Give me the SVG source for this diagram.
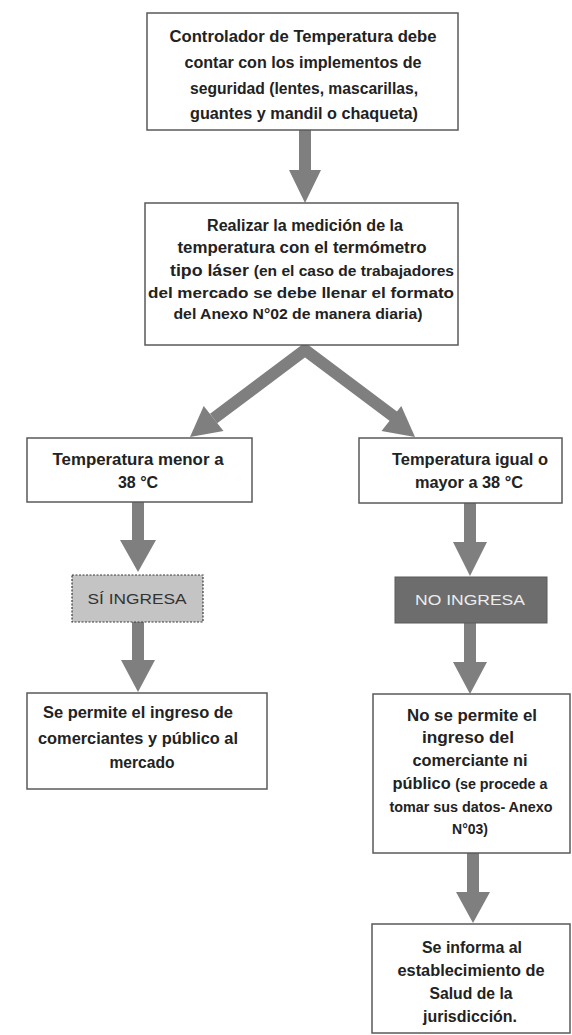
<svg xmlns="http://www.w3.org/2000/svg" width="572" height="1035" viewBox="0 0 572 1035">
<style>
.box{fill:#ffffff;stroke:#5a5a5a;stroke-width:1.5}
.t{font-family:"Liberation Sans",Arial,sans-serif;font-weight:bold;font-size:16px;fill:#222;text-anchor:middle}
.s{font-size:14px}
.arr{fill:#7f7f7f}
.shaft{fill:none;stroke:#7f7f7f;stroke-width:12;stroke-linejoin:miter}
</style>
<rect width="572" height="1035" fill="#ffffff"/>
<g id="connectors">
  <polygon class="arr" points="299,130 311,130 311,170 321,170 305,203 289,170 299,170"/>
  <polyline class="shaft" points="213.6,418.5 305,350 396.4,418.5"/>
  <polygon class="arr" points="190,437 203.7,405.9 223.5,431.1"/>
  <polygon class="arr" points="415,437 401.3,405.9 381.5,431.1"/>
  <polygon class="arr" points="132,502 144,502 144,540 156,540 138,572 120,540 132,540"/>
  <polygon class="arr" points="464,503 476,503 476,542 487,542 470,576 453,542 464,542"/>
  <polygon class="arr" points="132,622 144,622 144,660 155,660 138,692 121,660 132,660"/>
  <polygon class="arr" points="464,623 476,623 476,662 487,662 470,694 453,662 464,662"/>
  <polygon class="arr" points="467,853 479,853 479,892 490,892 473,923 456,892 467,892"/>
</g>
<g id="n1">
  <rect class="box" x="147" y="13" width="311" height="117"/>
  <text class="t" x="303" y="42" textLength="267" lengthAdjust="spacingAndGlyphs">Controlador de Temperatura debe</text>
  <text class="t" x="303" y="68" textLength="237" lengthAdjust="spacingAndGlyphs">contar con los implementos de</text>
  <text class="t" x="304" y="94" textLength="228" lengthAdjust="spacingAndGlyphs">seguridad (lentes, mascarillas,</text>
  <text class="t" x="304" y="119" textLength="228" lengthAdjust="spacingAndGlyphs">guantes y mandil o chaqueta)</text>
</g>
<g id="n2">
  <rect class="box" x="145" y="203" width="313" height="142"/>
  <text class="t" x="305" y="231" textLength="196" lengthAdjust="spacingAndGlyphs">Realizar la medición de la</text>
  <text class="t" x="302" y="253" textLength="249" lengthAdjust="spacingAndGlyphs">temperatura con el termómetro</text>
  <text class="t" x="312" y="276" textLength="284" lengthAdjust="spacingAndGlyphs">tipo láser <tspan class="s">(en el caso de trabajadores</tspan></text>
  <text class="t s" x="301" y="298" textLength="306" lengthAdjust="spacingAndGlyphs">del mercado se debe llenar el formato</text>
  <text class="t s" x="298" y="319" textLength="249" lengthAdjust="spacingAndGlyphs">del Anexo N°02 de manera diaria)</text>
</g>
<g id="n3">
  <rect class="box" x="27" y="438" width="225" height="64"/>
  <text class="t" x="138" y="465" textLength="171" lengthAdjust="spacingAndGlyphs">Temperatura menor a</text>
  <text class="t" x="138" y="488">38 °C</text>
</g>
<g id="n4">
  <rect class="box" x="359" y="438" width="203" height="65"/>
  <text class="t" x="470" y="465" textLength="156" lengthAdjust="spacingAndGlyphs">Temperatura igual o</text>
  <text class="t" x="469" y="488" textLength="108" lengthAdjust="spacingAndGlyphs">mayor a 38 °C</text>
</g>
<g id="n5">
  <rect x="72" y="575" width="131" height="47" fill="#c4c4c4" stroke="#3a3a3a" stroke-width="1.2" stroke-dasharray="2,1.5"/>
  <text x="137" y="604" font-family="Liberation Sans,Arial,sans-serif" font-size="15" fill="#333" text-anchor="middle" textLength="99" lengthAdjust="spacingAndGlyphs">SÍ INGRESA</text>
</g>
<g id="n6">
  <rect x="395" y="577" width="152" height="46" fill="#6d6d6d" stroke="#5a5a5a" stroke-width="1"/>
  <text x="470" y="605" font-family="Liberation Sans,Arial,sans-serif" font-size="15" fill="#ececec" text-anchor="middle" textLength="110" lengthAdjust="spacingAndGlyphs">NO INGRESA</text>
</g>
<g id="n7">
  <rect class="box" x="27" y="693" width="240" height="96"/>
  <text class="t" x="138" y="718" textLength="190" lengthAdjust="spacingAndGlyphs">Se permite el ingreso de</text>
  <text class="t" x="138" y="744" textLength="200" lengthAdjust="spacingAndGlyphs">comerciantes y público al</text>
  <text class="t" x="142" y="768" textLength="65" lengthAdjust="spacingAndGlyphs">mercado</text>
</g>
<g id="n8">
  <rect class="box" x="373" y="694" width="197" height="159"/>
  <text class="t" x="472" y="721" textLength="130" lengthAdjust="spacingAndGlyphs">No se permite el</text>
  <text class="t" x="468" y="743" textLength="92" lengthAdjust="spacingAndGlyphs">ingreso del</text>
  <text class="t" x="470" y="766" textLength="115" lengthAdjust="spacingAndGlyphs">comerciante ni</text>
  <text class="t" x="470" y="789" textLength="155" lengthAdjust="spacingAndGlyphs">público <tspan class="s">(se procede a</tspan></text>
  <text class="t s" x="471" y="812" textLength="163" lengthAdjust="spacingAndGlyphs">tomar sus datos- Anexo</text>
  <text class="t s" x="470" y="834">N°03)</text>
</g>
<g id="n9">
  <rect class="box" x="372" y="924" width="198" height="109"/>
  <text class="t" x="472" y="953" textLength="100" lengthAdjust="spacingAndGlyphs">Se informa al</text>
  <text class="t" x="471" y="976" textLength="147" lengthAdjust="spacingAndGlyphs">establecimiento de</text>
  <text class="t" x="471" y="999" textLength="83" lengthAdjust="spacingAndGlyphs">Salud de la</text>
  <text class="t" x="470" y="1022" textLength="94" lengthAdjust="spacingAndGlyphs">jurisdicción.</text>
</g>
</svg>
